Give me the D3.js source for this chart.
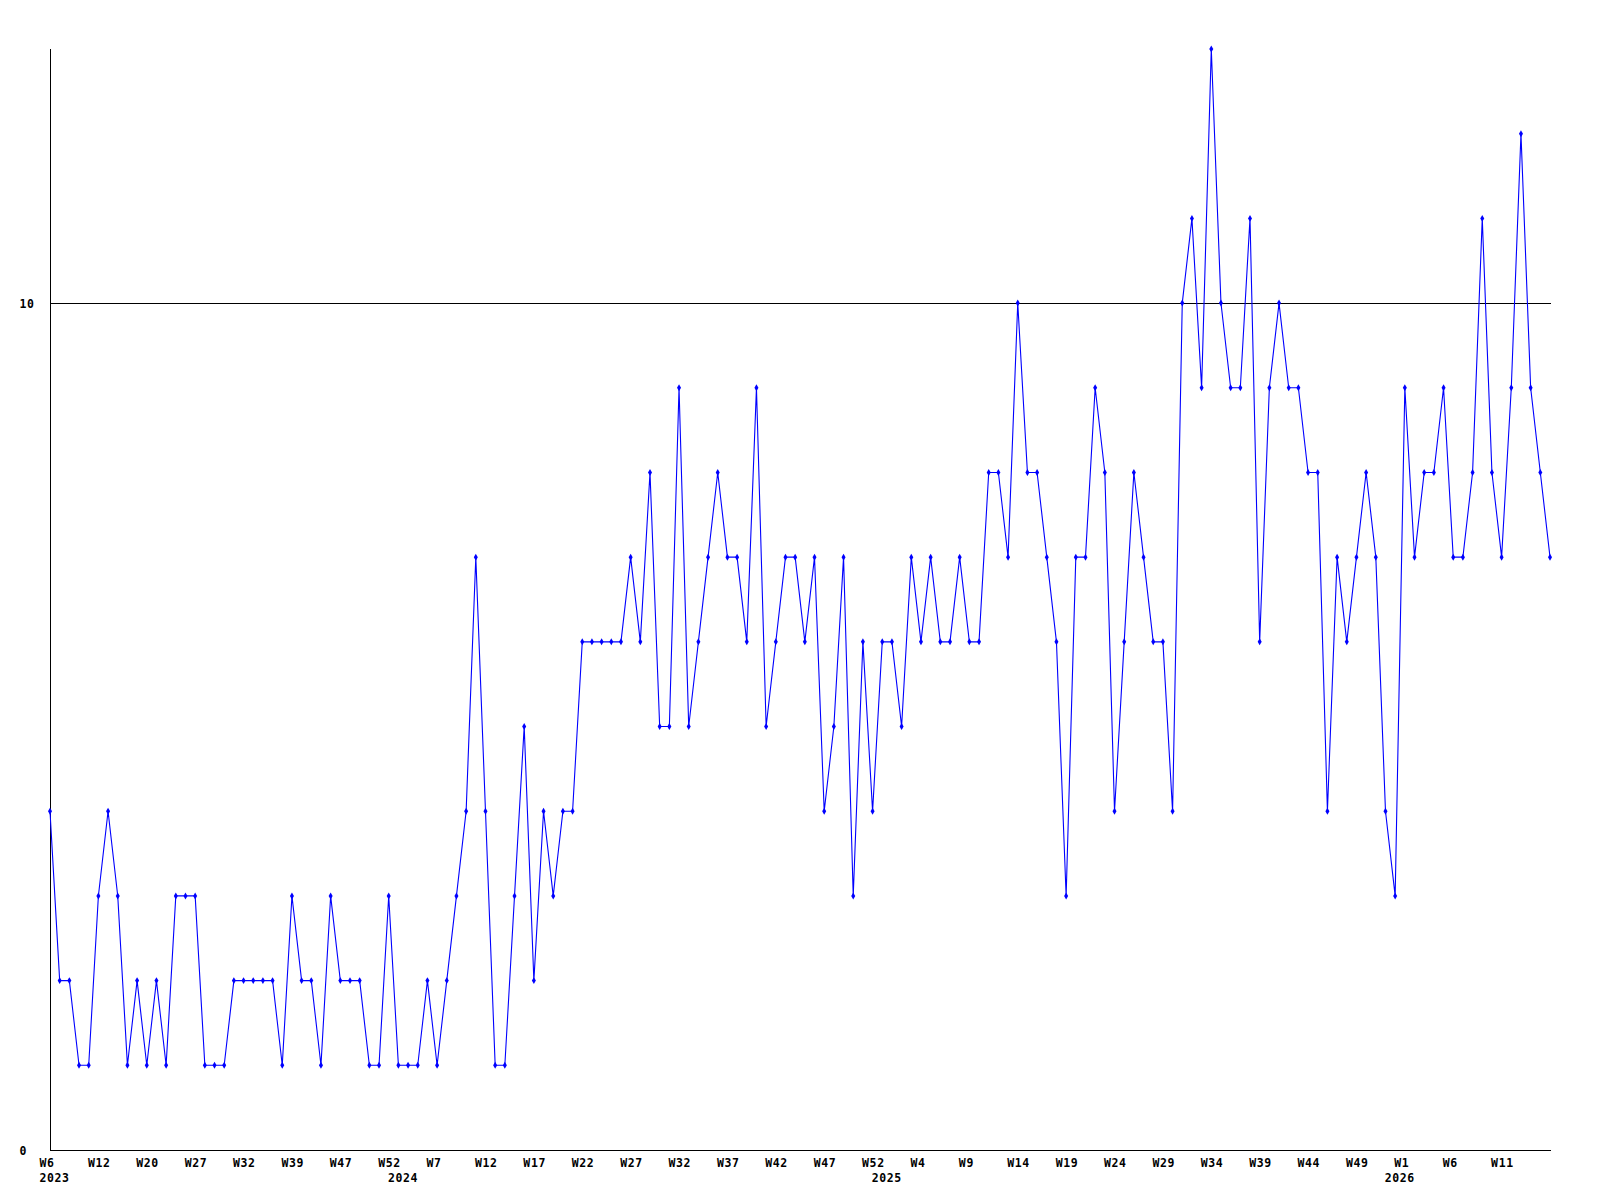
<!DOCTYPE html>
<html>
<head>
<meta charset="utf-8">
<script src="https://cdn.jsdelivr.net/npm/d3@7"></script>
<style>
  html, body { margin: 0; padding: 0; background: #ffffff; }
  svg { display: block; }
  text { font-family: "DejaVu Sans Mono", "Liberation Mono", monospace; font-weight: bold; font-size: 11.5px; letter-spacing: 0.6px; fill: #000; }
</style>
</head>
<body>
<svg id="chart" width="1600" height="1200"></svg>
<script>
// Weekly counts, one value per plotted week (W6 2023 ... 2026)
const values = [
  4, 2, 2, 1, 1, 3, 4, 3, 1, 2,
  1, 2, 1, 3, 3, 3, 1, 1, 1, 2,
  2, 2, 2, 2, 1, 3, 2, 2, 1, 3,
  2, 2, 2, 1, 1, 3, 1, 1, 1, 2,
  1, 2, 3, 4, 7, 4, 1, 1, 3, 5,
  2, 4, 3, 4, 4, 6, 6, 6, 6, 6,
  7, 6, 8, 5, 5, 9, 5, 6, 7, 8,
  7, 7, 6, 9, 5, 6, 7, 7, 6, 7,
  4, 5, 7, 3, 6, 4, 6, 6, 5, 7,
  6, 7, 6, 6, 7, 6, 6, 8, 8, 7,
  10, 8, 8, 7, 6, 3, 7, 7, 9, 8,
  4, 6, 8, 7, 6, 6, 4, 10, 11, 9,
  13, 10, 9, 9, 11, 6, 9, 10, 9, 9,
  8, 8, 4, 7, 6, 7, 8, 7, 4, 3,
  9, 7, 8, 8, 9, 7, 7, 8, 11, 8,
  7, 9, 12, 9, 8, 7
];

// Week tick labels and the point index they sit on
const weekTickIndex = [0, 5, 10, 15, 20, 25, 30, 35, 40, 45, 50, 55, 60, 65, 70, 75, 80, 85, 90, 95, 100, 105, 110, 115, 120, 125, 130, 135, 140, 145, 150];
const weekTickLabels = ["W6", "W12", "W20", "W27", "W32", "W39", "W47", "W52", "W7", "W12", "W17", "W22", "W27", "W32", "W37", "W42", "W47", "W52", "W4", "W9", "W14", "W19", "W24", "W29", "W34", "W39", "W44", "W49", "W1", "W6", "W11"];

// Year labels and the point index they sit on
const yearTickIndex = [0, 36, 86, 139];
const yearTickLabels = ["2023", "2024", "2025", "2026"];

// Y axis ticks
const yTicks = [0, 10];

const svg = d3.select("#chart");
svg.append("rect").attr("width", 1600).attr("height", 1200).attr("fill", "#fff");

const x = d3.scalePoint().domain(d3.range(values.length)).range([50, 1550]);
const y = d3.scaleLinear().domain([0, d3.max(values)]).range([1150, 49]);

// Y axis with gridlines
const yAxis = svg.append("g")
  .attr("transform", "translate(50.5,0)")
  .call(d3.axisLeft(y).tickValues(yTicks).tickSize(-1500).tickFormat(d3.format("d")));
yAxis.select(".domain").remove();
yAxis.selectAll(".tick line").attr("stroke", "#000").attr("stroke-width", 1)
  .attr("shape-rendering", "crispEdges").attr("x1", -0.5);
yAxis.selectAll(".tick text")
  .attr("x", -31).attr("dy", null).attr("y", 4)
  .attr("text-anchor", "start").attr("font-size", null).attr("font-family", null);

// vertical axis line
svg.append("line")
  .attr("x1", 50.5).attr("x2", 50.5)
  .attr("y1", y.range()[1]).attr("y2", y(0) + 0.5)
  .attr("stroke", "#000").attr("shape-rendering", "crispEdges");

// X axis (weeks)
const xAxis = svg.append("g")
  .attr("transform", `translate(0,${y(0) + 0.5})`)
  .call(d3.axisBottom(x).tickValues(weekTickIndex)
    .tickFormat((d) => weekTickLabels[weekTickIndex.indexOf(d)]).tickSize(0));
xAxis.select(".domain").attr("stroke", "#000").attr("shape-rendering", "crispEdges")
  .attr("d", `M${x.range()[0]},0H${x.range()[1]}`);
xAxis.selectAll(".tick text")
  .attr("x", -11).attr("y", 16.5).attr("dy", null)
  .attr("text-anchor", "start").attr("font-size", null).attr("font-family", null);

// X axis (years)
const yearAxis = svg.append("g")
  .attr("transform", `translate(0,${y(0) + 0.5})`)
  .call(d3.axisBottom(x).tickValues(yearTickIndex)
    .tickFormat((d) => yearTickLabels[yearTickIndex.indexOf(d)]).tickSize(0));
yearAxis.select(".domain").remove();
yearAxis.selectAll(".tick text")
  .attr("x", -11).attr("y", 31).attr("dy", null)
  .attr("text-anchor", "start").attr("font-size", null).attr("font-family", null);

// Data line
const line = d3.line().x((d, i) => x(i)).y((d) => y(d));
svg.append("path")
  .datum(values)
  .attr("d", line)
  .attr("fill", "none")
  .attr("stroke", "#0000ff")
  .attr("stroke-width", 1.1);

// Markers
svg.append("g").selectAll("path")
  .data(values)
  .join("path")
  .attr("transform", (d, i) => `translate(${x(i)},${y(d)})`)
  .attr("d", d3.symbol(d3.symbolDiamond, 14))
  .attr("fill", "#0000ff");
</script>
</body>
</html>
